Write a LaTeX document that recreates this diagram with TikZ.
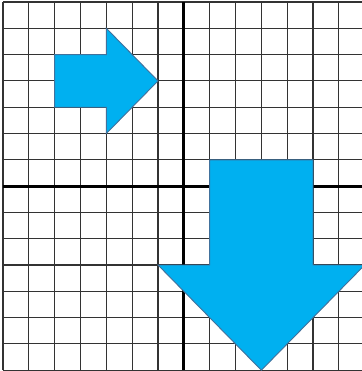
\documentclass[tikz,border=0pt]{standalone}
\usepackage{tikz}
\usetikzlibrary{calc}

\definecolor{arrowfill}{HTML}{00B0F0}
\definecolor{arrowline}{HTML}{41719C}

\begin{document}
\begin{tikzpicture}[x=0.5cm,y=0.509cm]
		\useasboundingbox (-7.116,-7.03) rectangle (6.886,7.076);
		
		\foreach \i in {-7,...,7} {
			\draw[black!80, line width=0.6pt] (\i,-7) -- (\i,7);
			\draw[black!80, line width=0.6pt] (-7,\i) -- (7,\i);
		}
		\draw[line width=1.6pt] (-7,0) -- (7,0);
		\draw[line width=1.6pt] (0,-7) -- (0,7);
		
		% arrow to the right
		\coordinate (A1) at (-5,5);
		\coordinate (A2) at (-3,5);
		\coordinate (A3) at (-3,6);
		\coordinate (A4) at (-1,4);
		\coordinate (A5) at (-3,2);
		\coordinate (A6) at (-3,3);
		\coordinate (A7) at (-5,3);
		\draw[fill=arrowfill, draw=arrowline, line width=0.5pt] (A1) -- (A2) -- (A3) -- (A4) -- (A5) -- (A6) -- (A7) -- cycle;
		
		% arrow pointing down
		\coordinate (B1) at (1,1);
		\coordinate (B2) at (5,1);
		\coordinate (B3) at (5,-3);
		\coordinate (B4) at (7,-3);
		\coordinate (B5) at (3,-7);
		\coordinate (B6) at (-1,-3);
		\coordinate (B7) at (1,-3);
		\draw[fill=arrowfill, draw=arrowline, line width=0.5pt] (B1) -- (B2) -- (B3) -- (B4) -- (B5) -- (B6) -- (B7) -- cycle;
	\end{tikzpicture}
\end{document}
